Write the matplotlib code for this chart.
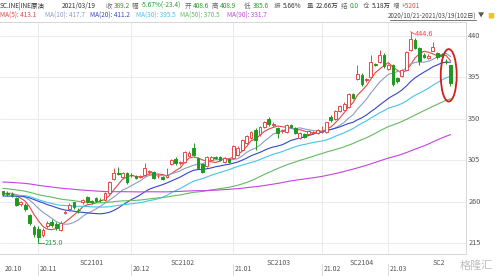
import numpy as np
import matplotlib
matplotlib.use("Agg")
import matplotlib.pyplot as plt
from matplotlib.patches import Ellipse

plt.rcParams['font.family'] = ['Noto Sans CJK SC', 'DejaVu Sans']

# closes before the window (only feed the moving averages)
hist_close = [284, 287, 290, 288, 286, 289, 292, 291, 288, 285,
              287, 290, 293, 292, 289, 291, 294, 296, 293, 290,
              288, 291, 293, 295, 292, 289, 287, 290, 292, 294,
              291, 288, 286, 289, 291, 290, 287, 285, 288, 290,
              292, 294, 291, 289, 293, 295, 290, 286, 281, 276,
              279, 283, 286, 284, 281, 283, 287, 285, 282, 280,
              272, 265, 258, 255, 262, 268, 272, 275, 276, 277,
              270, 266, 261, 258, 262, 265, 260, 259, 263, 276,
              263, 265, 268, 272, 270, 266, 268, 270, 271]

# daily candles 2020/10/21 - 2021/03/19 (102 days)
opens = [271, 269, 268, 264, 257, 256, 245, 232, 230, 224,
         233, 238, 236, 229, 248, 252, 259, 251, 259, 265,
         260, 264, 262, 262, 269, 284, 291, 287, 291, 289,
         288, 287, 289, 292, 292, 287.5, 287, 287, 301, 306,
         302, 303, 310, 318, 307, 301, 299, 305, 308.5, 308.5,
         303, 306, 307, 311, 316, 324, 329, 338, 333, 341,
         350, 343, 340, 337, 336, 343, 340, 329, 333, 333,
         335, 334.6, 336, 335.6, 352, 350, 358, 360, 363, 377,
         393, 398, 392, 395, 410, 412, 419, 404, 408, 394,
         396, 403, 425, 436, 427, 419, 416.5, 424, 422, 419,
         412.7, 408.6]
highs = [272, 271, 270, 265, 261, 258, 247, 235, 233, 231,
         239, 241, 238, 239, 251, 258, 260, 253, 263, 266,
         262, 265, 264, 270, 282, 297, 298, 292, 292, 291,
         289, 289, 302, 294, 293, 290, 288, 297, 306, 308,
         304, 315, 315, 324, 308, 302, 309, 310, 310, 310,
         308, 307, 321, 320, 328, 332, 337, 340, 342, 348,
         352, 346, 341, 339, 344, 344, 341, 336, 334, 338,
         337, 339, 342, 347, 354, 359, 365, 368, 378, 378,
         408, 400, 394, 419, 411, 425, 421, 410, 409, 395,
         404, 424, 444.6, 438, 428, 421, 420, 433, 423, 421,
         415, 408.9]
lows = [266, 266, 265, 255, 255, 250, 235, 221, 215, 221,
        231, 232, 229, 228, 246, 250, 252, 248, 257, 258,
        257, 259, 260, 261, 268, 283, 289, 285, 279, 287,
        284, 286, 288, 290, 284, 286, 283, 286, 300, 300,
        300, 302, 309, 310, 295, 291, 298, 304, 306, 304,
        302, 302, 306, 310, 315, 323, 328, 316, 331, 340,
        342, 341, 329, 335, 334, 340, 333, 328, 329, 332,
        333, 333, 335, 334, 347, 349, 357, 359, 362, 371,
        392, 386, 390, 394, 407, 411, 405, 403, 386, 389,
        395, 402, 424, 426, 408, 416, 415, 424, 415, 416,
        410, 385.6]
closes = [268, 268.5, 266.5, 256.5, 259, 252, 237, 225, 222, 229,
          237, 234, 231, 237, 249, 256, 254, 250.5, 262, 260,
          259.5, 261, 261.5, 269, 281, 291, 290.5, 291, 281, 288.5,
          285.6, 287.5, 296.5, 292.5, 285.6, 288, 284.6, 289, 305, 302,
          302.5, 314, 313, 311, 296.5, 292, 308, 308.5, 307.5, 305,
          307, 303, 320, 318, 327, 331, 335.6, 327, 341, 347,
          344, 344, 334.6, 337.5, 343, 341, 334.6, 334.6, 330, 337,
          335.5, 338, 336.5, 346.5, 348.7, 358, 364, 366, 377, 372.6,
          399, 388, 392.5, 412, 408.5, 419, 407, 408.5, 388, 391,
          403, 423, 437, 427, 413, 417, 418, 428, 417, 418.7,
          412.6, 389.2]

ma_periods = [5, 10, 20, 30, 50, 90]
ma_colors = ['#e04848', '#8e9cc4', '#3446c8', '#48c2e8', '#62bb62', '#c444de']
ma_labels = ['MA(5): 413.1', 'MA(10): 417.7', 'MA(20): 411.2',
             'MA(30): 395.5', 'MA(50): 370.5', 'MA(90): 331.7']

y_ticks = [440, 395, 350, 305, 260, 215]
month_labels = ['20.10', '20.11', '20.12', '21.01', '21.02', '21.03']
month_idx = [0, 8, 29, 52, 72, 87]
contract_labels = ['SC2101', 'SC2102', 'SC2103', 'SC2104', 'SC2']
contract_idx = [20, 40.5, 62.3, 81, 98.3]

W, H = 498, 276
fig = plt.figure(figsize=(W / 100, H / 100), dpi=100)
ax = fig.add_axes([0, 22 / H, 466 / W, 232 / H])

n = len(closes)
x = np.arange(n)
red = '#e44a4a'
green = '#1e9a1e'
for i in range(n):
    o, c, hi, lo = opens[i], closes[i], highs[i], lows[i]
    top, bot = max(o, c), min(o, c)
    col = red if c > o else green
    ax.vlines(x[i], top, hi, color=col, lw=0.7, zorder=3)
    ax.vlines(x[i], lo, bot, color=col, lw=0.7, zorder=3)
    hgt = max(top - bot, 0.7)
    if c > o:
        ax.bar(x[i], hgt, bottom=bot, width=0.62, facecolor='white',
               edgecolor=col, linewidth=0.7, zorder=4)
    else:
        ax.bar(x[i], hgt, bottom=bot, width=0.62, facecolor=col,
               edgecolor=col, linewidth=0.7, zorder=4)

all_close = np.array(hist_close + closes, dtype=float)
off = len(hist_close)
for p, col in zip(ma_periods, ma_colors):
    ma = np.convolve(all_close, np.ones(p) / p, mode='valid')
    ma = ma[off - p + 1:]
    ax.plot(x, ma, color=col, lw=0.8, zorder=2)

# extremes
hi_i = int(np.argmax(highs))
lo_i = int(np.argmin(lows))
ax.plot([hi_i, hi_i + 0.9], [highs[hi_i], highs[hi_i] - 2.5], color=red, lw=0.6)
ax.text(hi_i + 1.0, highs[hi_i] - 2.5, '%.1f' % highs[hi_i], color=red,
        fontsize=5.3, va='center', ha='left')
ax.plot([lo_i, lo_i + 1.3], [lows[lo_i], lows[lo_i]], color='#2e9a4a', lw=0.6)
ax.text(lo_i + 1.4, lows[lo_i], '%.1f' % lows[lo_i], color='#2e9a4a',
        fontsize=5.3, va='center', ha='left')

# red ring round the last candle
last = n - 1
ax.add_patch(Ellipse((last - 0.4, (highs[last] + lows[last]) / 2), 3.6, 57,
                     fill=False, edgecolor='#d41c1c', lw=1.3, zorder=6))

ax.set_xlim(-0.68, 104.5)
ax.set_ylim(203.0, 455.2)
ax.set_yticks(y_ticks)
ax.set_xticks(month_idx[1:])
ax.grid(True, color='#e8e8e8', lw=0.6)
ax.set_axisbelow(True)
ax.tick_params(length=0, labelleft=False, labelbottom=False)
for s in ax.spines.values():
    s.set_color('#d6d6d6')
    s.set_linewidth(0.7)
ax.spines['left'].set_visible(False)

# right price labels
for v in y_ticks:
    ax.text(1.005, (v - 203.0) / (455.2 - 203.0), str(v), transform=ax.transAxes,
            fontsize=5.3, color='#555555', va='center', ha='left')

# contract row and month row
for lab, xi in zip(contract_labels, contract_idx):
    ax.text(xi, -0.02, lab, transform=ax.get_xaxis_transform(), fontsize=5.0,
            color='#555555', ha='center', va='top')
for lab, xi in zip(month_labels, month_idx):
    xf = (3 + 4.43 * xi) / W if xi > 0 else 3 / W
    fig.text(xf + 1.5 / W, 1 - 269 / H, lab, fontsize=5.0, color='#555555',
             ha='left', va='center')
    if xi > 0:
        fig.add_artist(plt.Line2D([xf, xf], [1 - 264 / H, 1 - 276 / H],
                                  color='#d6d6d6', lw=0.6))

# header
g = '#2a9a2a'
d = '#333333'
k = '#666666'
head = [(0, 'SC.INE|INE原油', d), (62, '2021/03/19', d),
        (106, '收', k), (114, '389.2', g), (132, '幅', k), (141, '-5.67%(-23.4)', g),
        (185, '开', k), (193, '408.6', g), (212, '高', k), (220, '408.9', g),
        (244, '低', k), (253, '385.6', g), (274, '振', k), (283, '5.66%', d),
        (307, '量', k), (316, '22.66万', d), (341, '结', k), (350, '0.0', g),
        (363, '仓', k), (372, '5.18万', d), (393, '增', k), (402, '+5201', red)]
for xp, t, col in head:
    fig.text(xp / W, 1 - 6 / H, t, fontsize=4.7, color=col, va='center', ha='left')

ma_x = [0, 45, 90, 136, 180, 227]
for xp, t, col in zip(ma_x, ma_labels, ma_colors):
    fig.text(xp / W, 1 - 16 / H, t, fontsize=4.6, color=col, va='center', ha='left')

fig.text(476 / W, 1 - 16 / H, '2020/10/21-2021/03/19(102日)', fontsize=4.5,
         color='#444444', va='center', ha='right')
fig.add_artist(plt.Line2D([390 / W, 476 / W], [1 - 20 / H, 1 - 20 / H],
                          color='#444444', lw=0.5))
fig.text(481 / W, 1 - 16 / H, '▼', fontsize=4.5, color='#555555', va='center', ha='center')
fig.text(491 / W, 1 - 16 / H, '■', fontsize=5, color='#f0c030', va='center', ha='center')

# watermark
fig.text(493 / W, 1 - 266 / H, '格隆汇', fontsize=8, color='#b8b8b8',
         va='center', ha='right', alpha=0.9)

fig.savefig('out.png', dpi=100)
